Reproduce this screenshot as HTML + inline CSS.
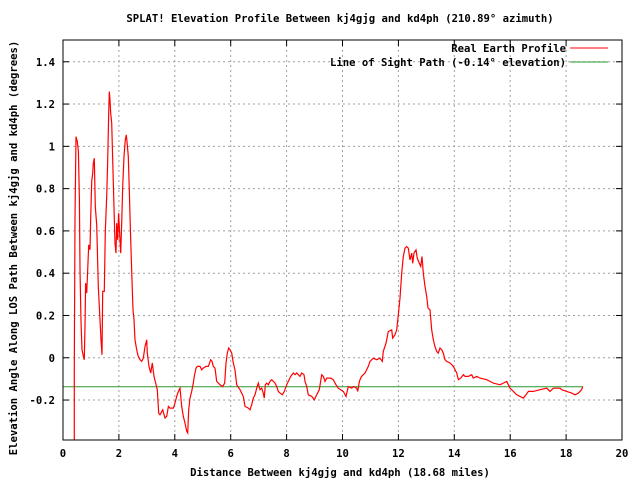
<!DOCTYPE html>
<html><head><meta charset="utf-8">
<style>
html,body{margin:0;padding:0;background:#fff;}
svg text{font-family:"DejaVu Sans Mono","Liberation Mono",monospace;font-size:10.6px;font-weight:bold;fill:#000;}
</style></head>
<body>
<svg id="chart" width="640" height="480" viewBox="0 0 640 480" xmlns="http://www.w3.org/2000/svg">
<rect x="0" y="0" width="640" height="480" fill="#fff"/>
<text x="340" y="22" text-anchor="middle">SPLAT! Elevation Profile Between kj4gjg and kd4ph (210.89° azimuth)</text>
<text x="340" y="476" text-anchor="middle">Distance Between kj4gjg and kd4ph (18.68 miles)</text>
<text transform="translate(17,248) rotate(-90)" text-anchor="middle">Elevation Angle Along LOS Path Between kj4gjg and kd4ph (degrees)</text>
<g id="grid"></g>
<g id="ticks"></g>
<g id="series"></g>
<rect x="63" y="40" width="559" height="400" fill="none" stroke="#000" stroke-width="1"/>
<g>
<text x="566" y="52" text-anchor="end">Real Earth Profile</text>
<line x1="570" y1="48" x2="608" y2="48" stroke="#f00" stroke-width="1"/>
<text x="566" y="66" text-anchor="end">Line of Sight Path (-0.14° elevation)</text>
<line x1="570" y1="62" x2="608" y2="62" stroke="#2a9a2a" stroke-width="1"/>
</g>
</svg>
<script>
const xTicks = [0,2,4,6,8,10,12,14,16,18,20];
const yTicks = [-0.2,0,0.2,0.4,0.6,0.8,1,1.2,1.4];
const yTickLabels = ["-0.2","0","0.2","0.4","0.6","0.8","1","1.2","1.4"];
const profileMiles = [0.405,0.405,0.43,0.465,0.51,0.55,0.585,0.61,0.644,0.68,0.73,0.763,0.79,0.81,0.847,0.882,0.918,0.966,0.99,1.026,1.061,1.085,1.121,1.157,1.205,1.264,1.324,1.36,1.395,1.419,1.479,1.515,1.562,1.598,1.634,1.658,1.681,1.705,1.741,1.777,1.813,1.86,1.896,1.92,1.956,1.991,2.015,2.063,2.099,2.135,2.182,2.23,2.266,2.302,2.338,2.373,2.409,2.457,2.505,2.54,2.576,2.636,2.695,2.755,2.815,2.874,2.934,2.993,3.017,3.077,3.137,3.196,3.256,3.316,3.375,3.423,3.47,3.566,3.65,3.71,3.77,3.83,3.95,4.008,4.068,4.127,4.186,4.246,4.305,4.365,4.425,4.46,4.496,4.544,4.603,4.663,4.699,4.759,4.806,4.902,4.961,5.021,5.116,5.2,5.283,5.331,5.379,5.438,5.498,5.617,5.713,5.784,5.832,5.88,5.927,5.975,6.035,6.094,6.154,6.214,6.333,6.452,6.512,6.631,6.691,6.75,6.81,6.87,6.929,6.989,7.048,7.108,7.168,7.203,7.239,7.287,7.347,7.406,7.466,7.526,7.585,7.645,7.704,7.764,7.848,7.919,8.003,8.062,8.146,8.241,8.3,8.36,8.42,8.479,8.539,8.622,8.658,8.718,8.777,8.897,8.992,9.076,9.171,9.255,9.315,9.374,9.434,9.577,9.672,9.768,9.851,9.935,10.03,10.126,10.209,10.328,10.388,10.507,10.543,10.603,10.626,10.685,10.805,10.924,10.984,11.103,11.222,11.342,11.425,11.461,11.556,11.64,11.759,11.795,11.878,11.938,11.998,12.057,12.117,12.176,12.236,12.296,12.355,12.415,12.475,12.51,12.558,12.63,12.677,12.749,12.797,12.844,12.892,12.952,13.011,13.059,13.13,13.19,13.25,13.309,13.369,13.429,13.488,13.548,13.608,13.667,13.727,13.846,13.966,14.085,14.145,14.228,14.324,14.383,14.502,14.622,14.681,14.8,14.92,15.159,15.278,15.397,15.636,15.755,15.875,15.934,15.994,16.113,16.232,16.352,16.471,16.567,16.65,16.829,17.067,17.306,17.425,17.545,17.783,17.843,18.022,18.201,18.32,18.44,18.559,18.595];
const profileAngles = [-0.388,-0.049,0.66,1.046,1.023,0.975,0.747,0.416,0.172,0.038,0.006,-0.009,0.18,0.353,0.306,0.416,0.534,0.511,0.66,0.834,0.873,0.92,0.944,0.715,0.629,0.337,0.18,0.085,0.014,0.314,0.314,0.597,0.763,0.936,1.157,1.259,1.22,1.157,1.11,0.936,0.763,0.542,0.495,0.637,0.558,0.684,0.621,0.495,0.637,0.81,0.952,1.031,1.054,1.007,0.952,0.794,0.621,0.408,0.227,0.18,0.085,0.038,0.006,-0.009,-0.017,-0.002,0.053,0.085,0.022,-0.041,-0.072,-0.025,-0.088,-0.12,-0.151,-0.262,-0.27,-0.246,-0.285,-0.277,-0.23,-0.238,-0.238,-0.214,-0.183,-0.16,-0.144,-0.23,-0.277,-0.309,-0.348,-0.356,-0.246,-0.191,-0.159,-0.12,-0.088,-0.049,-0.041,-0.041,-0.057,-0.049,-0.041,-0.041,-0.009,-0.017,-0.041,-0.049,-0.112,-0.128,-0.136,-0.12,-0.025,0.022,0.046,0.038,0.022,-0.025,-0.057,-0.128,-0.151,-0.183,-0.23,-0.238,-0.246,-0.222,-0.191,-0.175,-0.144,-0.12,-0.151,-0.144,-0.167,-0.191,-0.128,-0.12,-0.128,-0.112,-0.104,-0.112,-0.12,-0.136,-0.159,-0.167,-0.175,-0.159,-0.128,-0.112,-0.088,-0.072,-0.08,-0.072,-0.08,-0.088,-0.072,-0.08,-0.112,-0.136,-0.175,-0.183,-0.199,-0.175,-0.151,-0.08,-0.088,-0.112,-0.096,-0.096,-0.104,-0.128,-0.144,-0.151,-0.159,-0.183,-0.136,-0.144,-0.136,-0.144,-0.159,-0.112,-0.104,-0.088,-0.072,-0.041,-0.017,-0.002,-0.009,-0.002,-0.017,0.03,0.069,0.124,0.132,0.093,0.109,0.132,0.203,0.282,0.4,0.479,0.518,0.526,0.518,0.463,0.495,0.447,0.495,0.51,0.471,0.447,0.432,0.479,0.4,0.337,0.29,0.235,0.227,0.132,0.085,0.053,0.03,0.022,0.046,0.038,0.022,-0.009,-0.017,-0.025,-0.041,-0.072,-0.104,-0.096,-0.08,-0.088,-0.088,-0.08,-0.096,-0.088,-0.096,-0.104,-0.112,-0.12,-0.128,-0.12,-0.112,-0.128,-0.144,-0.159,-0.175,-0.183,-0.191,-0.175,-0.159,-0.159,-0.151,-0.144,-0.159,-0.144,-0.144,-0.151,-0.159,-0.167,-0.175,-0.167,-0.151,-0.136];
const losStartMiles = 0;
const losEndMiles = 18.6;
const losAngle = -0.137;

const X0=63, X1=622, Y0=440, Y1=40, XMIN=0, XMAX=20, YMIN=-0.389, YMAX=1.503;
function sx(v){return X0+(v-XMIN)/(XMAX-XMIN)*(X1-X0);}
function sy(v){return Y0-(v-YMIN)/(YMAX-YMIN)*(Y0-Y1);}
const NS="http://www.w3.org/2000/svg";
function mk(tag,attrs,parent){const e=document.createElementNS(NS,tag);for(const k in attrs)e.setAttribute(k,attrs[k]);parent.appendChild(e);return e;}
const grid=document.getElementById('grid'), ticks=document.getElementById('ticks'), series=document.getElementById('series');
xTicks.forEach((t,i)=>{
  const x=sx(t);
  if(i>0&&i<xTicks.length-1){const g=mk('line',{x1:x,y1:Y1,x2:x,y2:Y0,stroke:'#a0a0a0','stroke-dasharray':'2,3'},grid);
  
  }
  const a=mk('line',{x1:x,y1:Y0,x2:x,y2:Y0-6,stroke:'#000'},ticks);
  
  
  const b=mk('line',{x1:x,y1:Y1,x2:x,y2:Y1+6,stroke:'#000'},ticks);
  
  
  const l=mk('text',{x:x,y:457,'text-anchor':'middle'},ticks);l.textContent=String(t);
  
  
});
yTicks.forEach((t,i)=>{
  const y=sy(t);
  const g=mk('line',{x1:X0,y1:y,x2:X1,y2:y,stroke:'#a0a0a0','stroke-dasharray':'2,3'},grid);
  
  
  const a=mk('line',{x1:X0,y1:y,x2:X0+6,y2:y,stroke:'#000'},ticks);
  
  
  const b=mk('line',{x1:X1,y1:y,x2:X1-6,y2:y,stroke:'#000'},ticks);
  
  
  const l=mk('text',{x:55,y:y+4,'text-anchor':'end'},ticks);l.textContent=yTickLabels[i];
  
  
});
const los=mk('line',{x1:sx(losStartMiles),y1:sy(losAngle),x2:sx(losEndMiles),y2:sy(losAngle),stroke:'#2a9a2a','stroke-width':1},series);


const pts=profileMiles.map((m,i)=>sx(m).toFixed(1)+','+Math.max(Y1,Math.min(Y0,sy(profileAngles[i]))).toFixed(1)).join(' ');
const prof=mk('polyline',{points:pts,fill:'none',stroke:'#f00','stroke-width':1.2,'stroke-linejoin':'miter'},series);


</script>
</body></html>
